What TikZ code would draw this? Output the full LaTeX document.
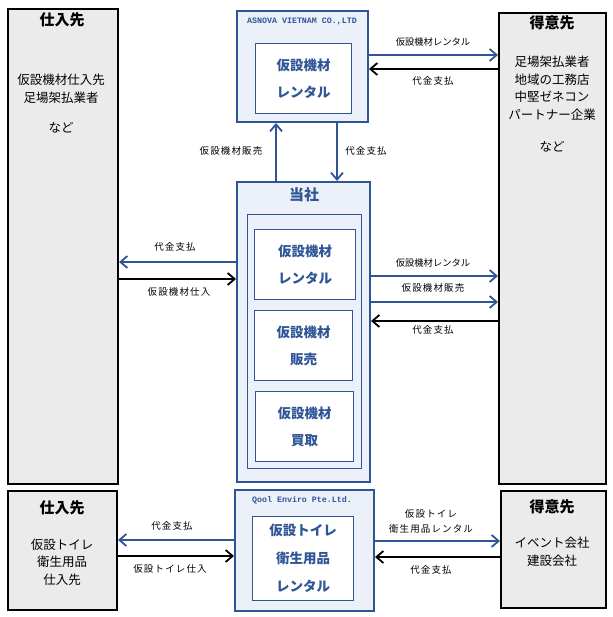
\documentclass[tikz,border=0pt]{standalone}
\usepackage{fontspec}
\setmainfont{Noto Sans CJK JP}
\newfontfamily\namefont{Liberation Mono}
\usetikzlibrary{arrows.meta}

\definecolor{dblue}{RGB}{47,85,151}
\definecolor{lblue}{RGB}{236,241,249}
\definecolor{lgray}{RGB}{235,235,235}

\tikzset{every picture/.style={line width=0.75pt}}
\tikzset{
	graybox/.style={draw=black, fill=lgray, line width=2, anchor=north west, inner sep=0},
	bluebox/.style={draw=dblue, fill=lblue, line width=2, anchor=north west, inner sep=0},
	innerbox/.style={draw=dblue, fill=white, line width=1, anchor=north west, inner sep=0, align=center, text=dblue, font=\bfseries\fontsize{13.5}{27}\selectfont},
	frame/.style={draw=dblue, fill=lblue, line width=1, anchor=north west, inner sep=0},
	boxtitle/.style={font=\bfseries\fontsize{15}{17}\selectfont},
	bluetitle/.style={text=dblue, font=\bfseries\fontsize{15}{17}\selectfont},
	coname/.style={text=dblue, font=\namefont\bfseries\fontsize{8.3}{9}\selectfont},
	body/.style={align=center, font=\fontsize{12.5}{17.5}\selectfont},
	lbl/.style={font=\fontsize{9.3}{15}\selectfont},
	lbls/.style={font=\fontsize{9.5}{15}\selectfont\addfontfeatures{LetterSpace=12}},
	barrow/.style={draw=dblue, line width=2, -{Straight Barb[length=7,width=12,line width=1.8]}},
	karrow/.style={draw=black, line width=2, -{Straight Barb[length=7,width=12,line width=1.8]}}
}

\begin{document}
\begin{tikzpicture}[x=1pt,y=1pt,yscale=-1,xscale=1]
	\useasboundingbox (0,0) rectangle (612,617);

	%Shape: Rectangle [supplier top]
	\node[graybox, minimum width=110, minimum height=475] (sup) at (7,8) {};
	%Shape: Rectangle [customer top]
	\node[graybox, minimum width=107, minimum height=471] (cus) at (498,12) {};
	%Shape: Rectangle [asnova]
	\node[bluebox, minimum width=131, minimum height=111] (asnova) at (236,10) {};
	\node[innerbox, minimum width=96, minimum height=70] (asnovain) at (255,43) {仮設機材\\レンタル};
	%Shape: Rectangle [tosha]
	\node[bluebox, minimum width=133, minimum height=300] (tosha) at (236,181) {};
	\node[frame, minimum width=114, minimum height=254] (toshain) at (247,214) {};
	\node[innerbox, minimum width=101, minimum height=70] (rental) at (254,229) {仮設機材\\レンタル};
	\node[innerbox, minimum width=98, minimum height=70] (sales) at (254,310) {仮設機材\\販売};
	\node[innerbox, minimum width=98, minimum height=70] (buy) at (255,391) {仮設機材\\買取};

	%Shape: Rectangle [bottom row]
	\node[graybox, minimum width=109, minimum height=119] (supb) at (7,490) {};
	\node[graybox, minimum width=105, minimum height=117] (cusb) at (500,490) {};
	\node[bluebox, minimum width=139, minimum height=121] (qool) at (234,489) {};
	\node[innerbox, minimum width=101, minimum height=84, font=\bfseries\fontsize{13.5}{28}\selectfont] (qoolin) at (252,516) {仮設トイレ\\衛生用品\\レンタル};

	% Text Node
	\node[boxtitle] (suptitle) at (62,20) {仕入先};
	\node[body] (suptext) at (61,89) {仮設機材仕入先\\足場架払業者};
	\node[body] (supetc) at (61,128) {など};
	\node[boxtitle] (custitle) at (552,23) {得意先};
	\node[body] (custext) at (552,88) {足場架払業者\\地域の工務店\\中堅ゼネコン\\パートナー企業};
	\node[body] (cusetc) at (552,147) {など};
	\node[coname] (asnovaname) at (302,21) {ASNOVA VIETNAM CO.,LTD};
	\node[bluetitle] (toshatitle) at (304,195) {当社};
	\node[boxtitle] (supbtitle) at (62,508) {仕入先};
	\node[body] (supbtext) at (62,562) {仮設トイレ\\衛生用品\\仕入先};
	\node[boxtitle] (cusbtitle) at (552,507) {得意先};
	\node[body] (cusbtext) at (552,552) {イベント会社\\建設会社};
	\node[coname] (qoolname) at (302,500) {Qool Enviro Pte.Ltd.};

	%Straight Lines [asnova - customer]
	\draw[barrow] (asnova.east |- 0,55) -- (cus.west |- 0,55);
	\draw[karrow] (cus.west |- 0,69) -- (asnova.east |- 0,69);
	\node[lbl] (l1) at (433,42) {仮設機材レンタル};
	\node[lbls] (l2) at (433,81) {代金支払};

	%Straight Lines [tosha - asnova]
	\draw[barrow] (tosha.north -| 276,0) -- (asnova.south -| 276,0);
	\draw[barrow] (asnova.south -| 337,0) -- (tosha.north -| 337,0);
	\node[lbls] (l3) at (231,151) {仮設機材販売};
	\node[lbls] (l4) at (366,151) {代金支払};

	%Straight Lines [supplier - tosha]
	\draw[barrow] (tosha.west |- 0,262) -- (sup.east |- 0,262);
	\draw[karrow] (sup.east |- 0,279) -- (tosha.west |- 0,279);
	\node[lbls] (l5) at (175,247) {代金支払};
	\node[lbls] (l6) at (179,292) {仮設機材仕入};

	%Straight Lines [tosha - customer]
	\draw[barrow] (tosha.east |- 0,276) -- (cus.west |- 0,276);
	\draw[barrow] (tosha.east |- 0,302) -- (cus.west |- 0,302);
	\draw[karrow] (cus.west |- 0,321) -- (tosha.east |- 0,321);
	\node[lbl] (l7) at (433,263) {仮設機材レンタル};
	\node[lbls] (l8) at (433,288) {仮設機材販売};
	\node[lbls] (l9) at (433,330) {代金支払};

	%Straight Lines [bottom row]
	\draw[barrow] (qool.west |- 0,540) -- (supb.east |- 0,540);
	\draw[karrow] (supb.east |- 0,556) -- (qool.west |- 0,556);
	\node[lbls] (l10) at (172,526) {代金支払};
	\node[lbls] (l11) at (170,569) {仮設トイレ仕入};
	\draw[barrow] (qool.east |- 0,541) -- (cusb.west |- 0,541);
	\draw[karrow] (cusb.west |- 0,557) -- (qool.east |- 0,557);
	\node[lbls, align=center] (l12) at (431,521) {仮設トイレ\\衛生用品レンタル};
	\node[lbls] (l13) at (431,570) {代金支払};

\end{tikzpicture}
\end{document}
